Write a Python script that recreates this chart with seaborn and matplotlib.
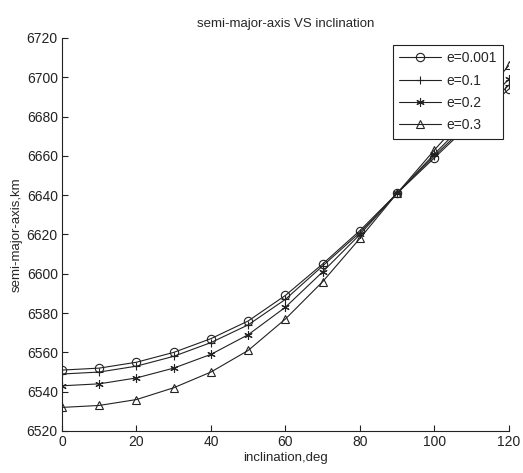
import numpy as np
import pandas as pd
import matplotlib
matplotlib.use('Agg')
import matplotlib.pyplot as plt
import seaborn as sns

# inclination (deg) on the x axis
inclination = [0, 10, 20, 30, 40, 50, 60, 70, 80, 90, 100, 110, 120]

# semi-major axis (km) for each eccentricity
a_e0001 = [6551, 6552, 6555, 6560, 6567, 6576, 6589, 6605, 6622, 6641, 6659, 6677, 6694]
a_e01 = [6549, 6550, 6553, 6558, 6565, 6574, 6587, 6604, 6621, 6641, 6660, 6678, 6696]
a_e02 = [6543, 6544, 6547, 6552, 6559, 6569, 6583, 6601, 6620, 6641, 6661, 6680, 6699]
a_e03 = [6532, 6533, 6536, 6542, 6550, 6561, 6577, 6596, 6618, 6641, 6663, 6684, 6706]

labels = ['e=0.001', 'e=0.1', 'e=0.2', 'e=0.3']
series = [a_e0001, a_e01, a_e02, a_e03]
markers = ['o', '+', (6, 2, 0), '^']

sns.set_theme(style='white')
plt.rcParams['font.family'] = ['Liberation Sans', 'DejaVu Sans']

fig = plt.figure(figsize=(5.23, 4.73), dpi=100)
ax = fig.add_axes([0.1185, 0.0888, 0.8545, 0.8309])

for lab, vals, m in zip(labels, series, markers):
    df = pd.DataFrame({'inclination': inclination, 'a': vals})
    sns.lineplot(data=df, x='inclination', y='a', ax=ax, color='#222222',
                 linewidth=0.8, marker=m, markersize=6,
                 markerfacecolor='none', markeredgecolor='#222222',
                 markeredgewidth=0.8, label=lab)

ax.set_xlim(0, 120)
ax.set_ylim(6520, 6720)
ax.set_xticks(np.arange(0, 121, 20))
ax.set_yticks(np.arange(6520, 6721, 20))
ax.tick_params(direction='in', length=4, width=0.8, labelsize=10,
               colors='#222222', left=True, bottom=True, pad=3)
for s in ['top', 'right']:
    ax.spines[s].set_visible(False)
for s in ['left', 'bottom']:
    ax.spines[s].set_color('#222222')
    ax.spines[s].set_linewidth(0.8)

ax.set_title('semi-major-axis VS inclination', fontsize=9.5, pad=8)
ax.set_xlabel('inclination,deg', fontsize=9.5, labelpad=2)
ax.set_ylabel('semi-major-axis,km', fontsize=9.5, labelpad=3)

# opaque legend box: the curves pass behind it near 110 deg
leg = ax.legend(loc='upper right', bbox_to_anchor=(0.987, 0.982),
                fontsize=10, frameon=True, fancybox=False, framealpha=1,
                handlelength=3.0, labelspacing=0.6, borderpad=0.45,
                handletextpad=0.4, borderaxespad=0)
leg.get_frame().set_edgecolor('#222222')
leg.get_frame().set_linewidth(0.8)
leg.set_zorder(10)

fig.savefig('out.png', dpi=100, facecolor='white')
